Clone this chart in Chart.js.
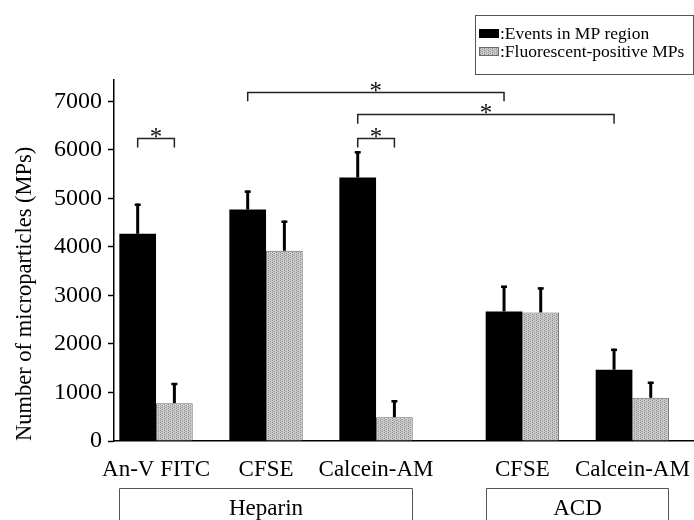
<!DOCTYPE html>
<html>
<head>
<meta charset="utf-8">
<script src="https://cdn.jsdelivr.net/npm/chart.js@4.4.0/dist/chart.umd.min.js"></script>
<style>
  html, body { margin: 0; padding: 0; background: #fff; }
  #wrap { width: 694px; height: 520px; position: relative; }
</style>
</head>
<body>
<div id="wrap"><canvas id="chart-mp"></canvas></div>
<script>
  // data
  const categories = ['An-V FITC', 'CFSE', 'Calcein-AM', 'CFSE', 'Calcein-AM'];
  const groupPositions = [1, 2, 3, 4.33, 5.33];
  const anticoagulants = ['Heparin', 'ACD'];
  const anticoagulantOf = [0, 0, 0, 1, 1];
  const seriesLabels = [':Events in MP region', ':Fluorescent-positive MPs'];
  const mpEvents = [4270, 4770, 5430, 2670, 1470];
  const mpEventsErr = [620, 390, 540, 530, 430];
  const fluorPositive = [780, 3920, 490, 2650, 890];
  const fluorPositiveErr = [415, 620, 350, 515, 330];
  const yTicks = [0, 1000, 2000, 3000, 4000, 5000, 6000, 7000];
  // [datasetA, indexA, datasetB, indexB, level]
  const sigPairs = [
    [0, 0, 1, 0, 6250],
    [0, 1, 0, 3, 7200],
    [0, 2, 0, 4, 6740],
    [0, 2, 1, 2, 6250]
  ];

  const FONT = "'Liberation Serif', 'Times New Roman', serif";

  function makeDotPattern() {
    const c = document.createElement('canvas');
    c.width = 4; c.height = 4;
    const g = c.getContext('2d');
    g.fillStyle = '#cbcbcb';
    g.fillRect(0, 0, 4, 4);
    g.fillStyle = '#8c8c8c';
    g.fillRect(0, 0, 1, 1);
    g.fillRect(0, 2, 1, 1);
    g.fillRect(2, 1, 1, 1);
    g.fillStyle = '#a8a8a8';
    g.fillRect(2, 3, 1, 1);
    g.fillRect(1, 3, 1, 1);
    return g.createPattern(c, 'repeat');
  }

  const errorBars = {
    id: 'errorBars',
    afterDatasetsDraw(chart) {
      const ctx = chart.ctx;
      const yScale = chart.scales.y;
      const errs = [mpEventsErr, fluorPositiveErr];
      ctx.save();
      ctx.strokeStyle = '#000';
      chart.data.datasets.forEach((ds, di) => {
        chart.getDatasetMeta(di).data.forEach((bar, i) => {
          const top = yScale.getPixelForValue(ds.data[i].y + errs[di][i]);
          ctx.lineWidth = 3;
          ctx.beginPath();
          ctx.moveTo(bar.x, bar.y);
          ctx.lineTo(bar.x, top);
          ctx.stroke();
          ctx.lineWidth = 2.5;
          ctx.beginPath();
          ctx.moveTo(bar.x - 3, top + 1);
          ctx.lineTo(bar.x + 3, top + 1);
          ctx.stroke();
        });
      });
      ctx.restore();
    }
  };

  const extras = {
    id: 'extras',
    afterDraw(chart) {
      const ctx = chart.ctx;
      const yScale = chart.scales.y;
      ctx.save();

      // significance brackets
      ctx.strokeStyle = '#222';
      ctx.fillStyle = '#111';
      ctx.lineWidth = 1.5;
      ctx.font = '25px ' + FONT;
      ctx.textAlign = 'center';
      ctx.textBaseline = 'alphabetic';
      sigPairs.forEach(p => {
        const xa = chart.getDatasetMeta(p[0]).data[p[1]].x;
        const xb = chart.getDatasetMeta(p[2]).data[p[3]].x;
        const y = Math.round(yScale.getPixelForValue(p[4])) + 0.5;
        const yLeg = yScale.getPixelForValue(p[4] - 200);
        ctx.beginPath();
        ctx.moveTo(xa, yLeg);
        ctx.lineTo(xa, y);
        ctx.lineTo(xb, y);
        ctx.lineTo(xb, yLeg);
        ctx.stroke();
        ctx.fillText('*', (xa + xb) / 2, y + 6);
      });

      // anticoagulant boxes under the axis
      ctx.strokeStyle = '#555';
      ctx.lineWidth = 1;
      ctx.fillStyle = '#000';
      ctx.font = '23px ' + FONT;
      ctx.textBaseline = 'middle';
      anticoagulants.forEach((name, k) => {
        let left = Infinity, right = -Infinity;
        anticoagulantOf.forEach((a, i) => {
          if (a !== k) return;
          const b0 = chart.getDatasetMeta(0).data[i];
          const b1 = chart.getDatasetMeta(1).data[i];
          left = Math.min(left, b0.x - b0.width / 2);
          right = Math.max(right, b1.x + b1.width / 2);
        });
        left = Math.round(left) + 0.5;
        right = Math.round(right) - 0.5;
        ctx.beginPath();
        ctx.moveTo(left, 530);
        ctx.lineTo(left, 488.5);
        ctx.lineTo(right, 488.5);
        ctx.lineTo(right, 530);
        ctx.stroke();
        ctx.fillText(name, (left + right) / 2, 509);
      });

      // legend box
      ctx.strokeStyle = '#555';
      ctx.strokeRect(475.5, 15.5, 218, 59);
      ctx.font = '17.5px ' + FONT;
      ctx.textAlign = 'left';
      ctx.textBaseline = 'middle';
      chart.data.datasets.forEach((ds, di) => {
        const yy = 29 + di * 18;
        ctx.fillStyle = ds.backgroundColor;
        ctx.fillRect(479, yy, 20, 9);
        if (ds.borderWidth) {
          ctx.strokeStyle = ds.borderColor;
          ctx.strokeRect(479.5, yy + 0.5, 19, 8);
        }
        ctx.fillStyle = '#000';
        ctx.fillText(seriesLabels[di], 500, yy + 5);
      });
      ctx.restore();
    }
  };

  const ctx = document.getElementById('chart-mp').getContext('2d');
  const dotted = makeDotPattern();

  new Chart(ctx, {
    type: 'bar',
    data: {
      datasets: [
        {
          label: seriesLabels[0],
          data: mpEvents.map((v, i) => ({ x: groupPositions[i], y: v })),
          backgroundColor: '#000',
          borderWidth: 0
        },
        {
          label: seriesLabels[1],
          data: fluorPositive.map((v, i) => ({ x: groupPositions[i], y: v })),
          backgroundColor: dotted,
          borderColor: '#6a6a6a',
          borderWidth: 1
        }
      ]
    },
    options: {
      responsive: true,
      maintainAspectRatio: false,
      animation: false,
      categoryPercentage: 0.667,
      barPercentage: 1,
      layout: { padding: { top: 80, right: 0, left: 0, bottom: 0 } },
      plugins: {
        legend: { display: false },
        tooltip: { enabled: false }
      },
      scales: {
        x: {
          type: 'linear',
          min: 0.618,
          max: 5.89,
          offset: false,
          grid: { display: false, drawTicks: false },
          border: { display: true, color: '#000', width: 1.5 },
          afterBuildTicks: scale => { scale.ticks = groupPositions.map(v => ({ value: v })); },
          afterFit: scale => {
            scale.height = 79;
            scale.paddingLeft = 0;
            scale.paddingRight = 0;
          },
          ticks: {
            autoSkip: false,
            maxRotation: 0,
            padding: 15,
            color: '#000',
            font: { family: FONT, size: 23 },
            callback: (value, index) => categories[index]
          }
        },
        y: {
          min: 0,
          max: 7440,
          grid: {
            display: true,
            drawOnChartArea: false,
            drawTicks: true,
            tickLength: 6,
            tickColor: '#000',
            tickWidth: 1.5
          },
          border: { display: true, color: '#000', width: 1.5 },
          afterBuildTicks: scale => { scale.ticks = yTicks.map(v => ({ value: v })); },
          afterFit: scale => {
            scale.width = 114;
            scale.paddingTop = 0;
            scale.paddingBottom = 0;
          },
          ticks: {
            padding: 6,
            color: '#000',
            font: { family: FONT, size: 24 },
            callback: value => String(value)
          },
          title: {
            display: true,
            text: 'Number of microparticles (MPs)',
            align: 'start',
            color: '#000',
            font: { family: FONT, size: 22.5 },
            padding: { top: 12, bottom: 4 }
          }
        }
      }
    },
    plugins: [errorBars, extras]
  });
</script>
</body>
</html>
